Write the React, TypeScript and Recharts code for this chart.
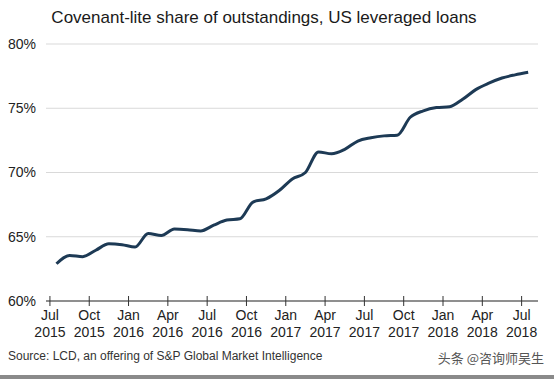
import { CartesianGrid, Line, LineChart, XAxis, YAxis } from "recharts";

// Month index 0 = Jul 2015; points sit mid-month.
const MONTH_POS = Array.from({ length: 37 }, (_, i) => i + 0.5);
const SHARE = [
  62.9, 63.55, 63.45, 63.95, 64.45, 64.38, 64.2, 65.25, 65.1, 65.6, 65.55,
  65.45, 65.9, 66.3, 66.4, 67.7, 67.95, 68.6, 69.5, 70.0, 71.6, 71.45, 71.8,
  72.45, 72.7, 72.85, 72.9, 74.3, 74.8, 75.05, 75.12, 75.7, 76.45, 76.95,
  77.35, 77.6, 77.8,
];
const X_TICKS = [0, 3, 6, 9, 12, 15, 18, 21, 24, 27, 30, 33, 36];
const X_LABELS = [
  ["Jul", "2015"],
  ["Oct", "2015"],
  ["Jan", "2016"],
  ["Apr", "2016"],
  ["Jul", "2016"],
  ["Oct", "2016"],
  ["Jan", "2017"],
  ["Apr", "2017"],
  ["Jul", "2017"],
  ["Oct", "2017"],
  ["Jan", "2018"],
  ["Apr", "2018"],
  ["Jul", "2018"],
];
const Y_TICKS = [60, 65, 70, 75, 80];

const data = MONTH_POS.map((m, i) => ({ m, share: SHARE[i] }));

const FONT = "'Liberation Sans', Arial, sans-serif";

function MonthTick(props: any) {
  const { x, y, payload } = props;
  const idx = X_TICKS.indexOf(payload.value);
  const [mon, yr] = X_LABELS[idx] ?? ["", ""];
  return (
    <g>
      <line x1={x} x2={x} y1={y - 5} y2={y + 5} stroke="#333" strokeWidth={1} />
      <text x={x} y={y + 19} textAnchor="middle" fontSize={14} fill="#222" fontFamily={FONT}>
        {mon}
      </text>
      <text x={x} y={y + 36} textAnchor="middle" fontSize={14} fill="#222" fontFamily={FONT}>
        {yr}
      </text>
    </g>
  );
}

export default function App() {
  return (
    <div
      style={{
        position: "absolute",
        left: 0,
        top: 0,
        width: 554,
        height: 379,
        background: "#fff",
        fontFamily: FONT,
      }}
    >
      <div
        style={{
          position: "absolute",
          top: 8,
          left: 0,
          width: 528,
          textAlign: "center",
          fontSize: 17,
          color: "#1a1a1a",
        }}
      >
        Covenant-lite share of outstandings, US leveraged loans
      </div>
      <LineChart
        width={554}
        height={379}
        data={data}
        margin={{ top: 44, right: 16, left: 0, bottom: 0 }}
      >
        <CartesianGrid horizontal vertical={false} stroke="#d9d9d9" />
        <XAxis
          dataKey="m"
          type="number"
          domain={[-0.3, 37.25]}
          ticks={X_TICKS}
          allowDataOverflow
          interval={0}
          height={78}
          tickSize={0}
          tickMargin={0}
          tickLine={false}
          axisLine={{ stroke: "#333", strokeWidth: 1 }}
          tick={<MonthTick />}
        />
        <YAxis
          domain={[60, 80]}
          ticks={Y_TICKS}
          width={46}
          axisLine={false}
          tickLine={false}
          tickSize={0}
          tickMargin={10}
          tickFormatter={(v) => `${v}%`}
          tick={{ fontSize: 14, fill: "#222", fontFamily: FONT }}
        />
        <Line
          type="monotone"
          dataKey="share"
          stroke="#1d3a55"
          strokeWidth={3}
          dot={false}
          isAnimationActive={false}
        />
      </LineChart>
      <div
        style={{
          position: "absolute",
          left: 8,
          top: 349,
          fontSize: 12,
          color: "#333",
        }}
      >
        Source: LCD, an offering of S&amp;P Global Market Intelligence
      </div>
      <div
        style={{
          position: "absolute",
          right: 10,
          top: 348,
          fontSize: 13,
          color: "#555",
          fontFamily: "'Noto Sans CJK SC', sans-serif",
        }}
      >
        头条 @咨询师吴生
      </div>
      <div
        style={{
          position: "absolute",
          left: 0,
          bottom: 0,
          width: 554,
          height: 4,
          background: "#8a8a8a",
        }}
      />
    </div>
  );
}
